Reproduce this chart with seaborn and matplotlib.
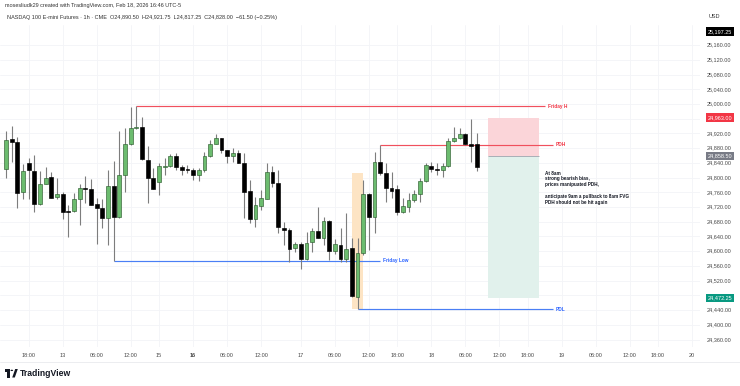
import numpy as np
import pandas as pd
import matplotlib
matplotlib.use("Agg")
import matplotlib.pyplot as plt
import matplotlib.transforms as mtransforms
from matplotlib.patches import Rectangle, Polygon, Circle
from matplotlib.lines import Line2D
import seaborn as sns

# ---------------- data (hourly bars, NQ futures) ----------------
opens = [24823, 24904, 24898, 24761, 24839, 24817, 24727, 24783, 24801, 24747,
         24755, 24710, 24709, 24742, 24772, 24770, 24728, 24717, 24690, 24778,
         24693, 24807, 24891, 24936, 24937, 24848, 24798, 24787, 24828, 24831,
         24858, 24830, 24823, 24821, 24806, 24820, 24859, 24892, 24907, 24875,
         24860, 24868, 24841, 24764, 24688, 24724, 24742, 24814, 24786, 24662,
         24658, 24608, 24619, 24578, 24624, 24655, 24637, 24682, 24601, 24617,
         24579, 24608, 24476, 24594, 24755, 24692, 24842, 24812, 24773, 24769,
         24706, 24719, 24740, 24755, 24791, 24832, 24823, 24820, 24832, 24900,
         24907, 24918, 24891, 24890.5]
highs = [24927, 24940, 24910, 24836, 24852, 24861, 24818, 24830, 24816, 24798,
         24762, 24726, 24757, 24782, 24804, 24796, 24744, 24742, 24820, 24846,
         24927, 24934, 24991, 24993.75, 24965, 24887, 24825, 24839, 24852, 24863,
         24866, 24834, 24834, 24827, 24825, 24870, 24902, 24918, 24908, 24875,
         24880, 24875, 24867, 24793, 24748, 24766, 24839, 24832, 24821, 24680,
         24662, 24626, 24626, 24653, 24662, 24721, 24694, 24685, 24633, 24662,
         24703, 24635, 24635, 24793, 24757, 24870, 24889, 24839, 24814, 24780,
         24744, 24757, 24766, 24798, 24839, 24843, 24839, 24839, 24907, 24937,
         24934, 24920, 24958, 24921.75]
lows = [24798, 24843, 24718, 24741, 24741, 24706, 24725, 24782, 24744, 24741,
        24688, 24639, 24707, 24671, 24730, 24725, 24620, 24664, 24617, 24573.5,
        24691, 24762, 24889, 24932, 24848, 24730, 24768, 24753, 24807, 24830,
        24821, 24807, 24812, 24793, 24791, 24816, 24857, 24890, 24866, 24839,
        24843, 24839, 24689, 24676, 24667, 24712, 24742, 24775, 24649, 24617,
        24572, 24599, 24553, 24576, 24599, 24635, 24617, 24576, 24592, 24572,
        24572, 24476, 24442, 24590, 24603, 24649, 24807, 24735, 24744, 24698,
        24704, 24707, 24735, 24733, 24787, 24816, 24807, 24802, 24830, 24898,
        24905, 24889, 24843, 24817.25]
closes = [24902, 24896, 24759, 24818, 24820, 24727, 24783, 24800, 24745, 24755,
          24707, 24707, 24742, 24771, 24770, 24726, 24717, 24690, 24778, 24694,
          24807, 24890, 24936, 24938, 24850, 24798, 24769, 24832, 24832, 24858,
          24829, 24821, 24821, 24807, 24821, 24859, 24891, 24908, 24875, 24859,
          24866, 24839, 24762, 24688, 24726, 24744, 24814, 24785, 24665, 24658,
          24605, 24619, 24578, 24621, 24655, 24635, 24682, 24601, 24619, 24579,
          24606, 24478, 24594, 24755, 24694, 24842, 24812, 24773, 24764, 24706,
          24722, 24739, 24755, 24791, 24834, 24823, 24821, 24832, 24900, 24907,
          24918, 24891, 24886, 24828]

tick_pos = [4, 10, 16, 22, 27, 33, 39, 45, 52, 58, 64, 69, 75, 81, 87, 92,
            98, 104, 110, 115, 121]
tick_labels = ["18:00", "13", "06:00", "12:00", "15", "16", "06:00", "12:00",
               "17", "06:00", "12:00", "18:00", "18", "06:00", "12:00", "18:00",
               "19", "06:00", "12:00", "18:00", "20"]
price_ticks = list(range(24360, 25161, 40))
hidden_price_ticks = [24960, 24480]   # covered by the coloured price tags

# key levels: (name, price, start bar, end bar)
level_names = ["Friday H", "PDH", "Friday Low", "PDL"]
level_prices = [24993.75, 24889, 24573.5, 24442]
level_start = [23, 66, 19, 62]
level_end = [95.1, 96.5, 66.0, 96.5]
level_colors = ["#f0505e", "#f0505e", "#4a7ff5", "#4a7ff5"]
level_text_colors = ["#f23645", "#f23645", "#2962ff", "#2962ff"]

# FVG highlight
fvg_x = [61, 62.95]
fvg_y = [24442, 24812]

# short position tool
pos_x = [85, 94]
pos_stop, pos_entry, pos_target = 24963.00, 24858.50, 24472.25

note = ("At 8am\nstrong bearish bias,\nprices manipuated PDH,\n\n"
        "anticipate 9am a pullback to 8am FVG\nPDH should not be hit again")

# ---------------- figure ----------------
sns.set_theme(style="white")
plt.rcParams["font.family"] = ["Liberation Sans", "DejaVu Sans"]

W, H = 740, 386
fig = plt.figure(figsize=(W / 100, H / 100), dpi=100)
fig.patch.set_facecolor("white")
ax = fig.add_axes([0, (H - 347) / H, 700 / W, (347 - 25) / H])
ax.set_facecolor("white")
for s in ax.spines.values():
    s.set_visible(False)
ax.set_xlim(-1.058, 122.4)
ax.set_ylim(24339.7, 25214.7)
ax.set_xticks([])
ax.set_yticks([])

df = pd.DataFrame({"open": opens, "high": highs, "low": lows, "close": closes})
df["x"] = np.arange(len(df))
df["up"] = df["close"] >= df["open"]

# grid
for t in tick_pos:
    ax.axvline(t, color="#f3f4f7", lw=0.6, zorder=0)
for p in price_ticks:
    ax.axhline(p, color="#f3f4f7", lw=0.6, zorder=0)

# FVG box
ax.add_patch(Rectangle((fvg_x[0], fvg_y[0]), fvg_x[1] - fvg_x[0], fvg_y[1] - fvg_y[0],
                       facecolor="#fde4c4", edgecolor="none", zorder=1))

# position boxes
ax.add_patch(Rectangle((pos_x[0], pos_entry), pos_x[1] - pos_x[0], pos_stop - pos_entry,
                       facecolor="#fbd5d9", edgecolor="none", zorder=1))
ax.add_patch(Rectangle((pos_x[0], pos_target), pos_x[1] - pos_x[0], pos_entry - pos_target,
                       facecolor="#e1f1ec", edgecolor="none", zorder=1))
ax.hlines(pos_entry, pos_x[0], pos_x[1], color="#a0a4ad", lw=0.6, zorder=1)

# levels
for name, p, a, b, c, tc in zip(level_names, level_prices, level_start, level_end,
                                level_colors, level_text_colors):
    ax.plot([a, b], [p, p], color=c, linewidth=0.85, solid_capstyle="butt", zorder=2)
    ax.text(b + 0.5, p, name, color=tc, fontsize=3.4, fontweight="bold",
            ha="left", va="center", zorder=5)

# candles
ax.vlines(df["x"], df["low"], df["high"], colors="#7d7d7d", linewidth=0.8, zorder=3)
body_bottom = np.minimum(df["open"], df["close"])
body_h = np.maximum((df["close"] - df["open"]).abs(), 1.6)
up = df["up"].values
ax.bar(df["x"][up], body_h[up], bottom=body_bottom[up], width=0.68,
       color="#6cbc6f", edgecolor="#2f5e31", linewidth=0.45, zorder=4)
ax.bar(df["x"][~up], body_h[~up], bottom=body_bottom[~up], width=0.68,
       color="#000000", edgecolor="#000000", linewidth=0.45, zorder=4)

# note
ax.text(95.1, 24819, note, fontsize=3.3, fontweight="bold", color="#131722",
        ha="left", va="top", linespacing=1.2, zorder=5)

# time axis labels
tr_x = mtransforms.blended_transform_factory(ax.transData, fig.transFigure)
for t, lab in zip(tick_pos, tick_labels):
    fig.text(t, 1 - 355.5 / H, lab, transform=tr_x, ha="center", va="center",
             fontsize=4, color="#4a4a4a", fontweight="bold" if lab == "16" else "normal")

# price axis labels
tr_y = mtransforms.blended_transform_factory(fig.transFigure, ax.transData)
for p in price_ticks:
    if p in hidden_price_ticks:
        continue
    fig.text(719 / W, p, f"{p:,.2f}", transform=tr_y, ha="center", va="center",
             fontsize=4, color="#4a4a4a")
for p, col in [(25197.25, "#000000"), (pos_stop, "#f23645"),
               (pos_entry, "#787b86"), (pos_target, "#089981")]:
    fig.text(720 / W, p, f"{p:,.2f}", transform=tr_y, ha="center", va="center",
             fontsize=4, color="white",
             bbox=dict(boxstyle="square,pad=0.3", fc=col, ec="none"))

# header
fig.text(5 / W, 1 - 5.5 / H, "mosesliudk29 created with TradingView.com, Feb 18, 2026 16:46 UTC-5",
         fontsize=4, color="#333333", ha="left", va="center")
fig.text(7 / W, 1 - 18 / H,
         "NASDAQ 100 E-mini Futures · 1h · CME  O24,890.50  H24,921.75  L24,817.25  C24,828.00  \u221261.50 (\u22120.25%)",
         fontsize=4, color="#333333", ha="left", va="center")
fig.text(714 / W, 1 - 17 / H, "USD", fontsize=4, color="#333333", ha="center", va="center")

# frame lines
fig.add_artist(Line2D([0, 1], [1 - 362 / H] * 2, color="#e9eaee", lw=0.6))

# logo
def P(x, y):
    return (x / W, 1 - y / H)
fig.add_artist(Polygon([P(4.5, 369), P(10.2, 369), P(10.2, 377.5), P(7.4, 377.5),
                        P(7.4, 371.8), P(4.5, 371.8)], closed=True,
                       transform=fig.transFigure, fc="#131722", ec="none"))
fig.add_artist(Circle(P(11.8, 370.4), 1.3 / W, transform=fig.transFigure,
                      fc="#131722", ec="none"))
fig.add_artist(Polygon([P(12.2, 377.5), P(15.2, 369), P(17.8, 369), P(14.8, 377.5)],
                       closed=True, transform=fig.transFigure, fc="#131722", ec="none"))
fig.text(20 / W, 1 - 373.5 / H, "TradingView", fontsize=6.2, fontweight="bold",
         color="#131722", ha="left", va="center")

fig.savefig("out.png", dpi=100, facecolor="white")
